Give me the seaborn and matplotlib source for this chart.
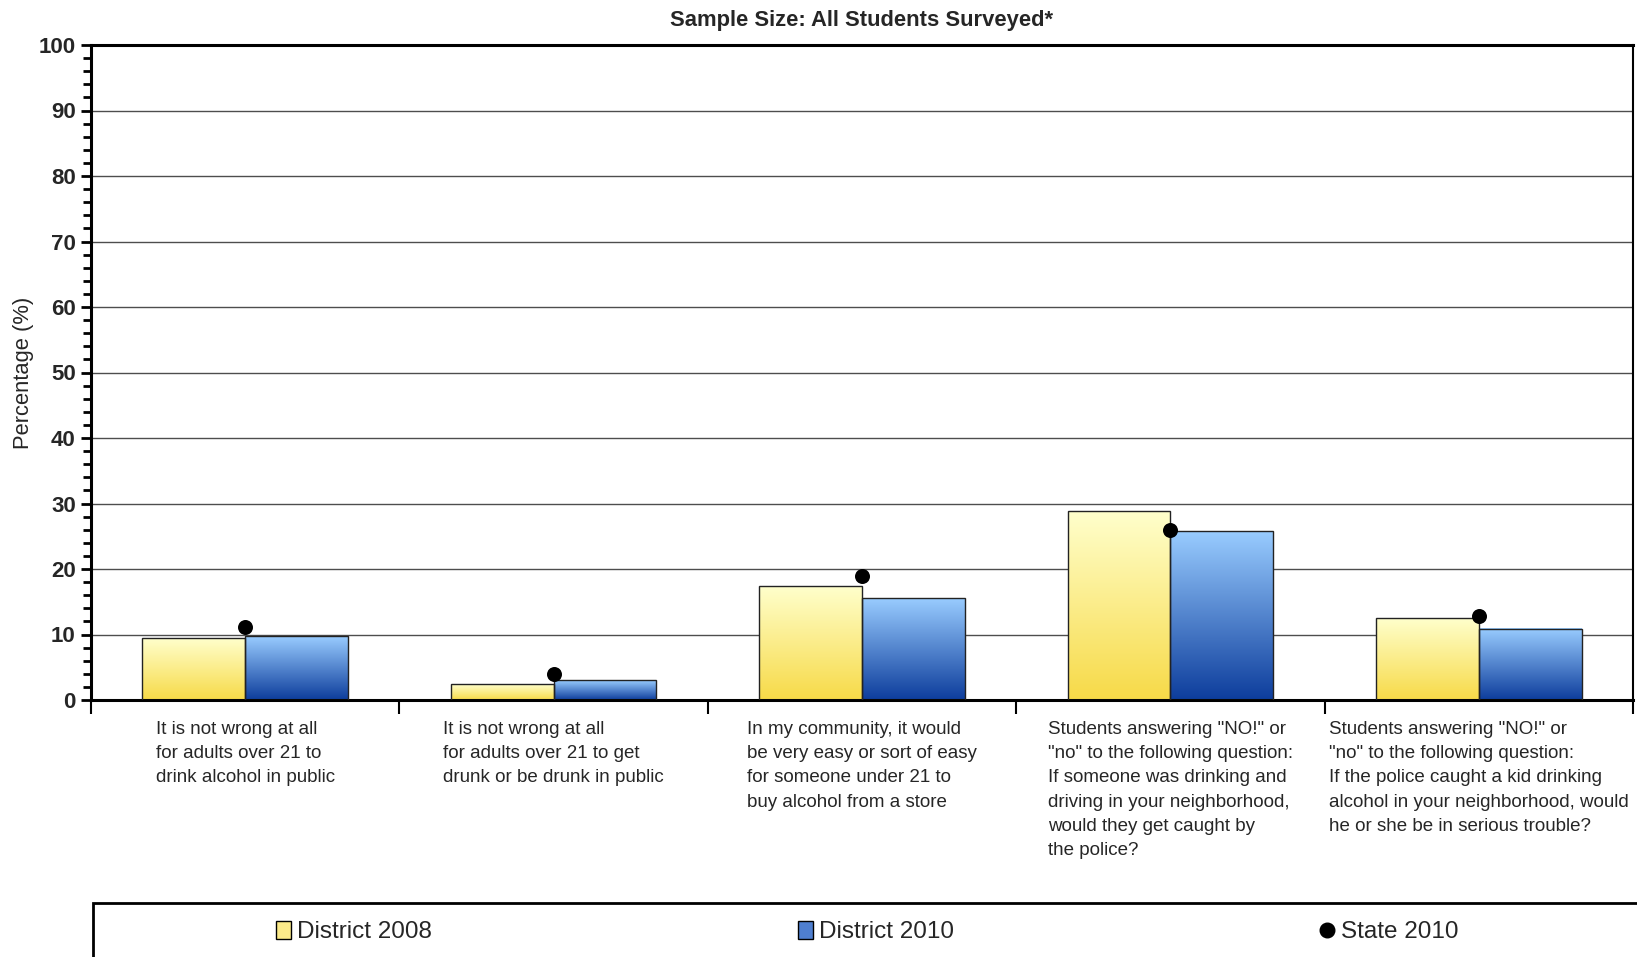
import numpy as np
import pandas as pd
import matplotlib
matplotlib.use("Agg")
import matplotlib.pyplot as plt
import seaborn as sns
from matplotlib.colors import LinearSegmentedColormap
from matplotlib.patches import Patch, Rectangle
from matplotlib.lines import Line2D
from matplotlib.ticker import MultipleLocator

# --- Data ---
questions = [
    "It is not wrong at all\nfor adults over 21 to\ndrink alcohol in public",
    "It is not wrong at all\nfor adults over 21 to get\ndrunk or be drunk in public",
    "In my community, it would\nbe very easy or sort of easy\nfor someone under 21 to\nbuy alcohol from a store",
    'Students answering "NO!" or\n"no" to the following question:\nIf someone was drinking and\ndriving in your neighborhood,\nwould they get caught by\nthe police?',
    'Students answering "NO!" or\n"no" to the following question:\nIf the police caught a kid drinking\nalcohol in your neighborhood, would\nhe or she be in serious trouble?',
]
district_2008 = [9.4, 2.4, 17.4, 28.8, 12.5]
district_2010 = [9.7, 3.0, 15.5, 25.8, 10.9]
state_2010 = [11.2, 3.9, 18.9, 26.0, 12.8]
series_names = ["District 2008", "District 2010", "State 2010"]

# gradient colours (bottom -> top)
YELLOW = ["#F7DA48", "#FFFFCC"]
BLUE = ["#0D3D9C", "#99CCFF"]

df = pd.DataFrame({
    "question": questions * 2,
    "pct": district_2008 + district_2010,
    "series": [series_names[0]] * 5 + [series_names[1]] * 5,
})

sns.set_style("white")
plt.rcParams["font.family"] = ["Liberation Sans", "DejaVu Sans"]

fig = plt.figure(figsize=(16.37, 9.57), dpi=100)
ax = fig.add_axes([91 / 1637, 1 - 700 / 957, (1633 - 91) / 1637, (700 - 45) / 957])

sns.barplot(data=df, x="question", y="pct", hue="series", order=questions,
            palette=[YELLOW[0], BLUE[0]], width=0.667, gap=0, legend=False,
            edgecolor="#222222", linewidth=1, ax=ax, zorder=3)

# replace flat fills with vertical gradients
for cont, cols in zip(ax.containers, [YELLOW, BLUE]):
    cmap = LinearSegmentedColormap.from_list("g", cols)
    for bar in cont:
        x0, w, h = bar.get_x(), bar.get_width(), bar.get_height()
        grad = np.linspace(0, 1, 256).reshape(-1, 1)
        ax.imshow(grad, extent=[x0, x0 + w, 0, h], origin="lower", cmap=cmap,
                  aspect="auto", zorder=2.5, interpolation="bicubic")
        bar.set_facecolor("none")

sns.stripplot(x=questions, y=state_2010, order=questions, jitter=False,
              color="black", size=10.8, ax=ax, zorder=5)

ax.set_xlim(-0.5, 4.5)
ax.set_ylim(0, 100)

# y axis
ax.set_yticks(range(0, 101, 10))
ax.yaxis.set_minor_locator(MultipleLocator(2))
ax.tick_params(axis="y", which="both", direction="out", left=True, width=2, color="black")
ax.tick_params(axis="y", which="major", length=7, pad=4, labelsize=16)
ax.tick_params(axis="y", which="minor", length=6)
plt.setp(ax.get_yticklabels(), fontweight="bold")
ax.yaxis.grid(True, color="#4d4d4d", linewidth=1)
ax.set_axisbelow(True)
ax.set_ylabel("Percentage (%)", fontsize=15.8, labelpad=3)

# x axis: boundary ticks + centred multi-line labels
ax.set_xticks(np.arange(-0.5, 5, 1))
ax.set_xticklabels([])
ax.set_xticks(range(5), labels=questions, minor=True)
ax.tick_params(axis="x", which="major", direction="out", bottom=True, length=10, width=1.5, color="black")
ax.tick_params(axis="x", which="minor", length=0, pad=15, labelsize=13.5)
for lbl in ax.get_xticklabels(minor=True):
    lbl.set_multialignment("left")
    lbl.set_linespacing(1.56)
ax.set_xlabel("")

for side in ["left", "bottom", "top"]:
    ax.spines[side].set_linewidth(2.2)
    ax.spines[side].set_color("black")
ax.spines["right"].set_linewidth(1.5)
ax.spines["right"].set_color("black")

ax.set_title("Sample Size: All Students Surveyed*", fontsize=15.8, fontweight="bold", pad=14)

# legend box running off the bottom/right of the page
fig.add_artist(Rectangle((93 / 1637, -0.2), 1.2, 0.2 + (1 - 903 / 957),
                         transform=fig.transFigure, fill=False, edgecolor="black", linewidth=2))
handles = [
    Patch(facecolor="#FBEA8A", edgecolor="black", linewidth=1),
    Patch(facecolor="#4F7FD0", edgecolor="black", linewidth=1),
    Line2D([], [], marker="o", color="black", linestyle="none", markersize=10.5),
]
legend_x = [354, 876, 1389]
for h, name, lx in zip(handles, series_names, legend_x):
    fig.legend([h], [name], loc="center", bbox_to_anchor=(lx / 1637, 1 - 932 / 957),
               frameon=False, fontsize=17.5, handlelength=0.6, handleheight=0.8,
               handletextpad=0.25)

fig.savefig("out.png", dpi=100)
